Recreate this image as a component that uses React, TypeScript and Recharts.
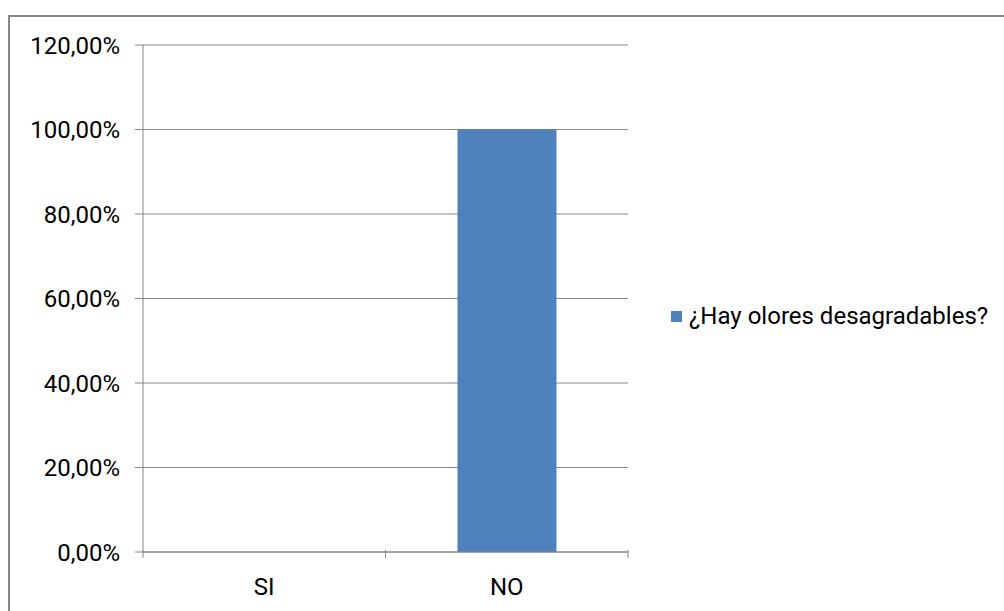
import React from "react";
import { BarChart, Bar, XAxis, YAxis, CartesianGrid, Legend } from "recharts";

const categories = ["SI", "NO"];
const values = [0, 1];
const yTicks = [0, 0.2, 0.4, 0.6, 0.8, 1, 1.2];
const seriesName = "¿Hay olores desagradables?";

const data = categories.map((c, i) => ({ name: c, value: values[i] }));

const FONT = "Roboto, 'Noto Sans', sans-serif";
const AXIS_GRAY = "#868686";

const fmtPct = (v: number) => (v * 100).toFixed(2).replace(".", ",") + "%";

// category labels with tick marks drawn on the band edges
const CategoryTick = (props: any) => {
  const { x, y, payload, index, visibleTicksCount } = props;
  const half = payload && payload.offset ? payload.offset : 121;
  const top = y - 8;
  return (
    <g>
      <line x1={x - half} x2={x - half} y1={top} y2={top + 8} stroke={AXIS_GRAY} />
      {index === (visibleTicksCount ?? categories.length) - 1 && (
        <line x1={x + half} x2={x + half} y1={top} y2={top + 8} stroke={AXIS_GRAY} />
      )}
      <text x={x} y={top + 45} textAnchor="middle" fontFamily={FONT} fontSize={24} fill="#000">
        {payload.value}
      </text>
    </g>
  );
};

const LegendBox = () => (
  <div style={{ display: "flex", alignItems: "center", fontFamily: FONT, fontSize: 24, color: "#000" }}>
    <div style={{ width: 11, height: 11, background: "#4f81bd", marginRight: 7 }} />
    <span>{seriesName}</span>
  </div>
);

export default function App() {
  return (
    <div style={{ position: "absolute", left: 0, top: 0, width: 1004, height: 611, background: "#fff", overflow: "hidden" }}>
      <div
        style={{
          position: "absolute", left: 8, top: 15, width: 1010, height: 620,
          borderLeft: `2px solid ${AXIS_GRAY}`, borderTop: `2px solid ${AXIS_GRAY}`,
        }}
      />
      <div style={{ position: "absolute", left: 0, top: 0 }}>
        <BarChart
          width={1004}
          height={611}
          data={data}
          margin={{ top: 45, right: 376, bottom: 0, left: 0 }}
          barCategoryGap="30%"
        >
          <CartesianGrid vertical={false} stroke={AXIS_GRAY} strokeOpacity={1} />
          <XAxis
            dataKey="name"
            height={59}
            stroke={AXIS_GRAY}
            tickLine={false}
            tick={<CategoryTick />}
            tickMargin={0}
            interval={0}
          />
          <YAxis
            width={143}
            domain={[0, 1.2]}
            ticks={yTicks}
            tickFormatter={fmtPct}
            stroke={AXIS_GRAY}
            tickSize={8}
            tickMargin={15}
            tick={{ fontFamily: FONT, fontSize: 24, fill: "#000" }}
            interval={0}
          />
          <Legend
            layout="horizontal"
            verticalAlign="middle"
            align="center"
            content={<LegendBox />}
            wrapperStyle={{ left: 671, top: 302, width: 330 }}
          />
          <Bar dataKey="value" name={seriesName} fill="#4f81bd" barSize={99} isAnimationActive={false} />
        </BarChart>
      </div>
    </div>
  );
}
